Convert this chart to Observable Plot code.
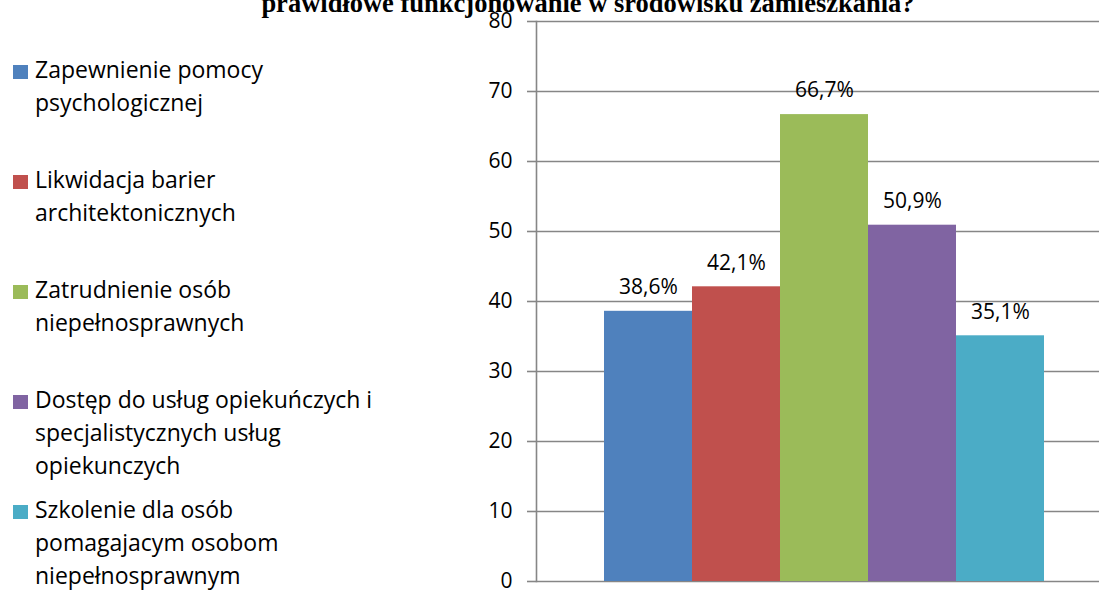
<!DOCTYPE html>
<html>
<head>
<meta charset="utf-8">
<script src="https://cdn.jsdelivr.net/npm/d3@7"></script>
<script src="https://cdn.jsdelivr.net/npm/@observablehq/plot@0.6"></script>
<style>
  html, body { margin: 0; padding: 0; background: #fff; }
  #wrap { position: relative; width: 1099px; height: 590px; overflow: hidden; background: #fff; }
  #chart { position: absolute; left: 0; top: 0; }
  #title { position: absolute; left: 0; width: 1176px; top: -9px; text-align: center;
           font-family: "Liberation Serif", serif; font-weight: bold; font-size: 26.5px; line-height: 25px; color: #000; white-space: nowrap; }
  .sw { position: absolute; left: 13px; width: 15px; height: 14px; }
  .lt { position: absolute; left: 35px; font-family: "Open Sans", sans-serif; font-size: 23px; line-height: 33px; color: #000; white-space: nowrap; }
</style>
</head>
<body>
<div id="wrap">
  <div id="chart"></div>
  <div id="title"></div>
  <div id="legend"></div>
</div>
<script>
const titleText = "prawidłowe funkcjonowanie w środowisku zamieszkania?";
const categories = [
  "Zapewnienie pomocy psychologicznej",
  "Likwidacja barier architektonicznych",
  "Zatrudnienie osób niepełnosprawnych",
  "Dostęp do usług opiekuńczych i specjalistycznych usług opiekunczych",
  "Szkolenie dla osób pomagajacym osobom niepełnosprawnym"
];
const legendLines = [
  ["Zapewnienie pomocy", "psychologicznej"],
  ["Likwidacja barier", "architektonicznych"],
  ["Zatrudnienie osób", "niepełnosprawnych"],
  ["Dostęp do usług opiekuńczych i", "specjalistycznych usług", "opiekunczych"],
  ["Szkolenie dla osób", "pomagajacym osobom", "niepełnosprawnym"]
];
const values = [38.6, 42.1, 66.7, 50.9, 35.1];
const valueLabels = ["38,6%", "42,1%", "66,7%", "50,9%", "35,1%"];
const colors = ["#4F81BD", "#C0504D", "#9BBB59", "#8064A2", "#4BACC6"];
const yTicks = [0, 10, 20, 30, 40, 50, 60, 70, 80];

const data = categories.map((c, i) => ({category: c, value: values[i], label: valueLabels[i]}));

document.getElementById("title").textContent = titleText;

const gridColor = "#868686";

const chart = Plot.plot({
  width: 1099,
  height: 590,
  marginLeft: 536,
  marginRight: 0,
  marginTop: 21,
  marginBottom: 9,
  style: {fontFamily: "Open Sans, sans-serif", fontSize: "21px", color: "#000", background: "transparent"},
  x: {type: "band", domain: categories, range: [602, 1046], padding: 0, axis: null},
  y: {domain: [0, 80], axis: null},
  color: {domain: categories, range: colors},
  marks: [
    Plot.gridY(yTicks, {stroke: gridColor, strokeOpacity: 1, strokeWidth: 1.6}),
    Plot.axisY(yTicks, {label: null, tickSize: 9, tickPadding: 15, stroke: gridColor, strokeWidth: 1.6, tickFormat: d => String(d), fontSize: 21}),
    Plot.frame({anchor: "left", stroke: gridColor, strokeWidth: 1.6}),
    Plot.barY(data, {x: "category", y: "value", fill: "category"}),
    Plot.text(data, {x: "category", y: "value", text: "label", dy: -24, fontSize: 21, fill: "#000"})
  ]
});
document.getElementById("chart").appendChild(chart);

const legend = document.getElementById("legend");
legendLines.forEach((lines, i) => {
  const base = 78 + 110 * i;
  const sw = document.createElement("div");
  sw.className = "sw";
  sw.style.top = (base - 13) + "px";
  sw.style.background = colors[i];
  legend.appendChild(sw);
  const t = document.createElement("div");
  t.className = "lt";
  t.style.top = (base - 25) + "px";
  t.innerHTML = lines.join("<br>");
  legend.appendChild(t);
});
</script>
</body>
</html>
